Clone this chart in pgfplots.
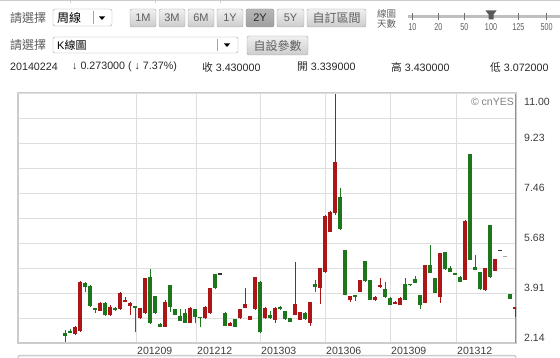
\documentclass[border=0pt]{standalone}
\usepackage{pgfplots}
\pgfplotsset{compat=1.18}
\usepackage{pgfplotstable}
\usepackage{fontspec}
\setmainfont{Liberation Sans}
\newfontfamily\cjk{Noto Sans CJK TC}
\newfontfamily\narrow[FakeStretch=0.72]{Liberation Sans}
\definecolor{cred}{RGB}{172,22,22}
\definecolor{cgreen}{RGB}{28,118,28}
\definecolor{gridc}{RGB}{222,222,222}
\definecolor{framec}{RGB}{204,204,204}
\definecolor{tealc}{RGB}{95,165,172}
\definecolor{tickc}{RGB}{60,60,60}
\definecolor{uigray}{RGB}{95,95,95}
\definecolor{txt}{RGB}{40,40,40}
\definecolor{btnb}{RGB}{165,165,165}

\pgfplotstableread{
x o h l c
3 2.448 2.742 2.423 2.718
4 2.576 4.337 2.540 4.312
8 3.285 3.593 3.274 3.568
10 3.132 3.487 3.097 3.426
12 3.345 3.947 3.327 3.922
13 3.603 3.781 3.593 3.628
14 3.451 3.603 3.132 3.568
16 3.015 3.380 3.001 3.370
17 3.192 4.443 3.178 4.433
21 2.718 3.664 2.707 3.603
26 2.859 3.405 2.849 3.391
29 3.015 3.451 3.001 3.426
30 3.192 4.089 3.178 4.078
34 2.753 2.895 2.742 2.838
36 3.015 3.345 3.001 3.334
37 3.391 4.078 3.370 3.511
38 2.955 3.107 2.944 3.097
39 3.334 4.479 3.320 4.468
41 3.015 3.405 3.001 3.391
43 2.955 3.405 2.859 3.391
47 3.132 5.021 3.122 3.522
48 2.955 3.239 2.944 3.228
50 2.859 3.593 2.753 3.582
52 4.078 4.798 3.522 4.787
53 4.645 6.665 4.631 6.651
54 6.084 6.807 6.073 6.793
55 6.736 10.98 6.676 8.543
58 3.664 3.816 3.603 3.806
60 3.958 4.383 3.947 4.372
63 3.664 3.806 3.639 3.781
64 4.124 4.433 4.107 4.178
67 3.522 3.618 3.511 3.603
68 3.487 3.759 3.476 3.745
73 3.568 4.915 3.557 4.904
76 3.781 5.329 3.568 5.319
81 4.372 6.488 4.362 6.474
85 4.007 4.798 3.993 4.787
87 4.702 5.117 4.691 5.106
91 3.339 3.430 3.072 3.430
}\redtab

\pgfplotstableread{
x o h l c
1 2.505 2.601 2.186 2.388
2 2.565 2.625 2.484 2.505
5 4.256 4.291 3.958 4.135
6 4.160 4.178 3.433 3.451
7 3.345 3.345 3.214 3.323
9 3.568 3.593 3.114 3.132
11 3.391 3.416 3.274 3.309
15 3.416 3.416 2.540 3.394
18 4.489 4.752 2.813 2.838
19 3.806 3.823 3.178 3.192
20 2.803 2.838 2.711 2.718
22 4.195 4.213 3.249 3.426
23 3.334 3.345 3.122 3.132
24 3.097 3.345 2.920 2.930
25 3.214 3.345 2.849 2.859
27 3.345 3.355 2.838 3.051
28 3.044 3.044 2.696 3.026
31 4.585 4.603 4.064 4.078
33 3.214 3.228 2.742 2.753
35 2.980 2.990 2.707 2.718
40 4.312 4.326 2.505 2.519
42 3.132 3.285 3.001 3.015
44 3.426 3.440 3.320 3.334
45 3.274 3.285 2.966 2.980
46 3.015 3.026 2.884 2.895
49 3.214 3.228 2.966 2.980
51 4.231 4.372 3.958 4.135
56 7.324 7.650 6.155 6.169
57 5.436 5.446 3.830 3.841
59 3.806 3.806 3.628 3.788
61 5.046 5.063 4.312 4.326
62 4.372 4.383 3.653 3.664
65 4.043 4.312 3.724 3.759
66 3.745 3.759 3.476 3.487
69 4.231 4.433 3.653 3.664
70 4.195 4.195 4.178 4.178
71 4.408 4.514 4.266 4.277
72 3.841 3.852 3.334 3.487
74 4.904 5.613 4.621 4.631
75 4.433 4.443 3.912 3.922
77 5.354 5.365 4.737 4.752
78 4.787 4.869 4.656 4.667
79 4.585 4.585 4.567 4.567
80 4.489 4.504 4.302 4.312
82 8.837 8.848 5.071 5.081
83 4.844 5.258 4.716 4.727
84 4.645 4.656 4.029 4.043
86 6.321 6.332 4.454 4.468
90 3.876 3.887 3.703 3.703
}\greentab

\pgfplotstableread{
x o h l c
32 4.585 4.585 4.567 4.567
88 5.411 5.411 5.400 5.400
}\blacktab

\pgfplotstableread{
x o h l c
89 5.198 5.198 5.190 5.190
}\graytab

\begin{document}
\begin{tikzpicture}
\useasboundingbox (0pt,0pt) rectangle (560pt,357pt);
\fill[white] (0pt,0pt) rectangle (560pt,357pt);

\begin{scope}[shift={(0pt,357pt)}, x=1pt, y=-1pt]
  % top border remnants
  \draw[framec, line width=0.8pt] (0,0.6) -- (560,0.6);
  \foreach \xx in {70,155,220} \draw[framec, line width=0.8pt] (\xx,0) -- (\xx,3);
  % row 1
  \node[anchor=west, inner sep=0, text=uigray, font={\cjk\fontsize{12}{14}\selectfont}] at (10,18) {請選擇};
  \draw[btnb, fill=white, rounded corners=2pt] (53,9) rectangle (112,26);
  \draw[btnb] (93,11) -- (93,24);
  \fill[black] (99,16.5) -- (105,16.5) -- (102,20) -- cycle;
  \node[anchor=west, inner sep=0, text=black, font={\cjk\fontsize{12}{14}\selectfont}] at (57,17.5) {周線};
  \foreach \a/\b/\t in {130/156/1M,159/185/3M,188/214/6M,217/243/1Y,277/304/5Y}{
    \draw[btnb, rounded corners=2pt, top color=white!94!black, bottom color=white!80!black] (\a,9) rectangle (\b,27);
    \node[inner sep=0, text=uigray, font=\fontsize{11}{12}\selectfont] at ({(\a+\b)/2},18) {\t};
  }
  \draw[white!55!black, rounded corners=2pt, top color=white!72!black, bottom color=white!62!black] (246,9) rectangle (274,27);
  \node[inner sep=0, text=txt, font=\fontsize{11}{12}\selectfont] at (260,18) {2Y};
  \draw[btnb, rounded corners=2pt, top color=white!94!black, bottom color=white!80!black] (307,9) rectangle (366,27);
  \node[inner sep=0, text=uigray, font={\cjk\fontsize{12}{14}\selectfont}] at (336.5,18) {自訂區間};
  % slider
  \node[inner sep=0, text=uigray, font={\cjk\fontsize{9.5}{10}\selectfont}] at (386.5,13.5) {線圖};
  \node[inner sep=0, text=uigray, font={\cjk\fontsize{9.5}{10}\selectfont}] at (386.5,24) {天數};
  \draw[white!75!black, line width=2.6pt] (408,16.7) -- (560,16.7);
  \foreach \xx/\t in {412.3/10,438.3/20,464.3/50,491/100,518.3/125,546.7/500}{
    \node[inner sep=0, text=uigray, font={\narrow\fontsize{10}{11}\selectfont}] at (\xx,27) {\t};
  }
  \foreach \xx in {412.3,438.3,464.3,518.3,546.7}{
    \draw[white!45!black, line width=1.3pt] (\xx,13.3) -- (\xx,20);
  }
  \fill[white!35!black] (485.5,10.5) -- (496.5,10.5) -- (493.5,14.5) -- (493.5,19.5) -- (488.5,19.5) -- (488.5,14.5) -- cycle;
  % row 2
  \node[anchor=west, inner sep=0, text=uigray, font={\cjk\fontsize{12}{14}\selectfont}] at (10,45) {請選擇};
  \draw[btnb, fill=white, rounded corners=2pt] (53,37) rectangle (238,53);
  \draw[btnb] (217,39) -- (217,51);
  \fill[black] (224,43.5) -- (230,43.5) -- (227,47) -- cycle;
  \node[anchor=west, inner sep=0, text=black, font={\fontsize{11}{13}\selectfont}] at (57,45) {K{\cjk 線圖}};
  \draw[btnb, rounded corners=2pt, top color=white!94!black, bottom color=white!80!black] (247,36) rectangle (308,55);
  \node[inner sep=0, text=uigray, font={\cjk\fontsize{12}{14}\selectfont}] at (277.5,45.5) {自設參數};
  % row 3
  \begin{scope}[every node/.style={anchor=west, inner sep=0, text=txt, font=\fontsize{10.7}{12}\selectfont}]
    \node at (10,67) {20140224};
    \node at (72,67) {↓ 0.273000 ( ↓ 7.37\%)};
    \node at (202,67) {{\cjk 收} 3.430000};
    \node at (297,67) {{\cjk 開} 3.339000};
    \node at (391,67) {{\cjk 高} 3.430000};
    \node at (490,67) {{\cjk 低} 3.072000};
  \end{scope}
  % bottom panel edge
  \draw[framec, line width=1.5pt, rounded corners=2pt] (18,357.5) -- (18,355.5) -- (516,355.5) -- (516,357.5);
\end{scope}

\begin{axis}[
  at={(18pt,14pt)}, anchor=south west,
  scale only axis, width=498pt, height=250pt,
  xmin=-8.4, xmax=91.2, ymin=2.14, ymax=11.0,
  axis line style={draw=framec, line width=1.4pt},
  xtick={15.2,27.2,40,53,66,79.2},
  xticklabels={201209,201212,201303,201306,201309,201312},
  ytick={2.14,3.912,5.684,7.456,9.228},
  yticklabels={2.14,3.91,5.68,7.46,9.23},
  minor ytick={3.026,4.798,6.570,8.342,10.114},
  xmajorgrids, ymajorgrids, yminorgrids,
  grid style={draw=gridc, line width=0.8pt},
  minor grid style={draw=gridc, line width=0.8pt},
  major tick length=0pt, minor tick length=0pt,
  yticklabel pos=right,
  tick label style={font=\fontsize{10.5}{12}\selectfont, text=tickc, inner sep=0pt},
  xticklabel style={anchor=north west, xshift=1pt, yshift=-4pt},
  yticklabel style={anchor=south west, xshift=8pt, yshift=1.5pt},
  extra y ticks={11}, extra y tick labels={11.00},
  extra y tick style={yticklabel style={anchor=north west, yshift=-6pt}},
  extra x ticks={91.1}, extra x tick labels={},
  extra x tick style={grid style={draw=tealc, line width=1.1pt}},
  clip=true,
]
% wicks
\addplot[draw=none, mark=none, error bars/.cd, y dir=plus, y explicit, error mark=none,
  error bar style={draw=cred, line width=1pt}]
  table[x=x, y=l, y error plus expr=\thisrow{h}-\thisrow{l}] {\redtab};
\addplot[draw=none, mark=none, error bars/.cd, y dir=plus, y explicit, error mark=none,
  error bar style={draw=cgreen, line width=1pt}]
  table[x=x, y=l, y error plus expr=\thisrow{h}-\thisrow{l}] {\greentab};
% bodies
\addplot[draw=none, mark=none, error bars/.cd, y dir=plus, y explicit, error mark=none,
  error bar style={draw=cred, line width=3.8pt}]
  table[x=x, y=o, y error plus expr={max(\thisrow{c}-\thisrow{o},0.05)}] {\redtab};
\addplot[draw=none, mark=none, error bars/.cd, y dir=plus, y explicit, error mark=none,
  error bar style={draw=cgreen, line width=3.8pt}]
  table[x=x, y=c, y error plus expr={max(\thisrow{o}-\thisrow{c},0.05)}] {\greentab};
\addplot[draw=none, mark=none, error bars/.cd, y dir=plus, y explicit, error mark=none,
  error bar style={draw=black!80, line width=3.8pt}]
  table[x=x, y=c, y error plus expr={max(\thisrow{o}-\thisrow{c},0.05)}] {\blacktab};
\addplot[draw=none, mark=none, error bars/.cd, y dir=plus, y explicit, error mark=none,
  error bar style={draw=black!35, line width=3.8pt}]
  table[x=x, y=c, y error plus expr={max(\thisrow{o}-\thisrow{c},0.05)}] {\graytab};
\end{axis}

\begin{scope}[shift={(0pt,357pt)}, x=1pt, y=-1pt]
  \node[anchor=east, inner sep=0, text=black!50, font=\fontsize{10.5}{12}\selectfont] at (514,102) {© cnYES};
\end{scope}
\end{tikzpicture}
\end{document}
